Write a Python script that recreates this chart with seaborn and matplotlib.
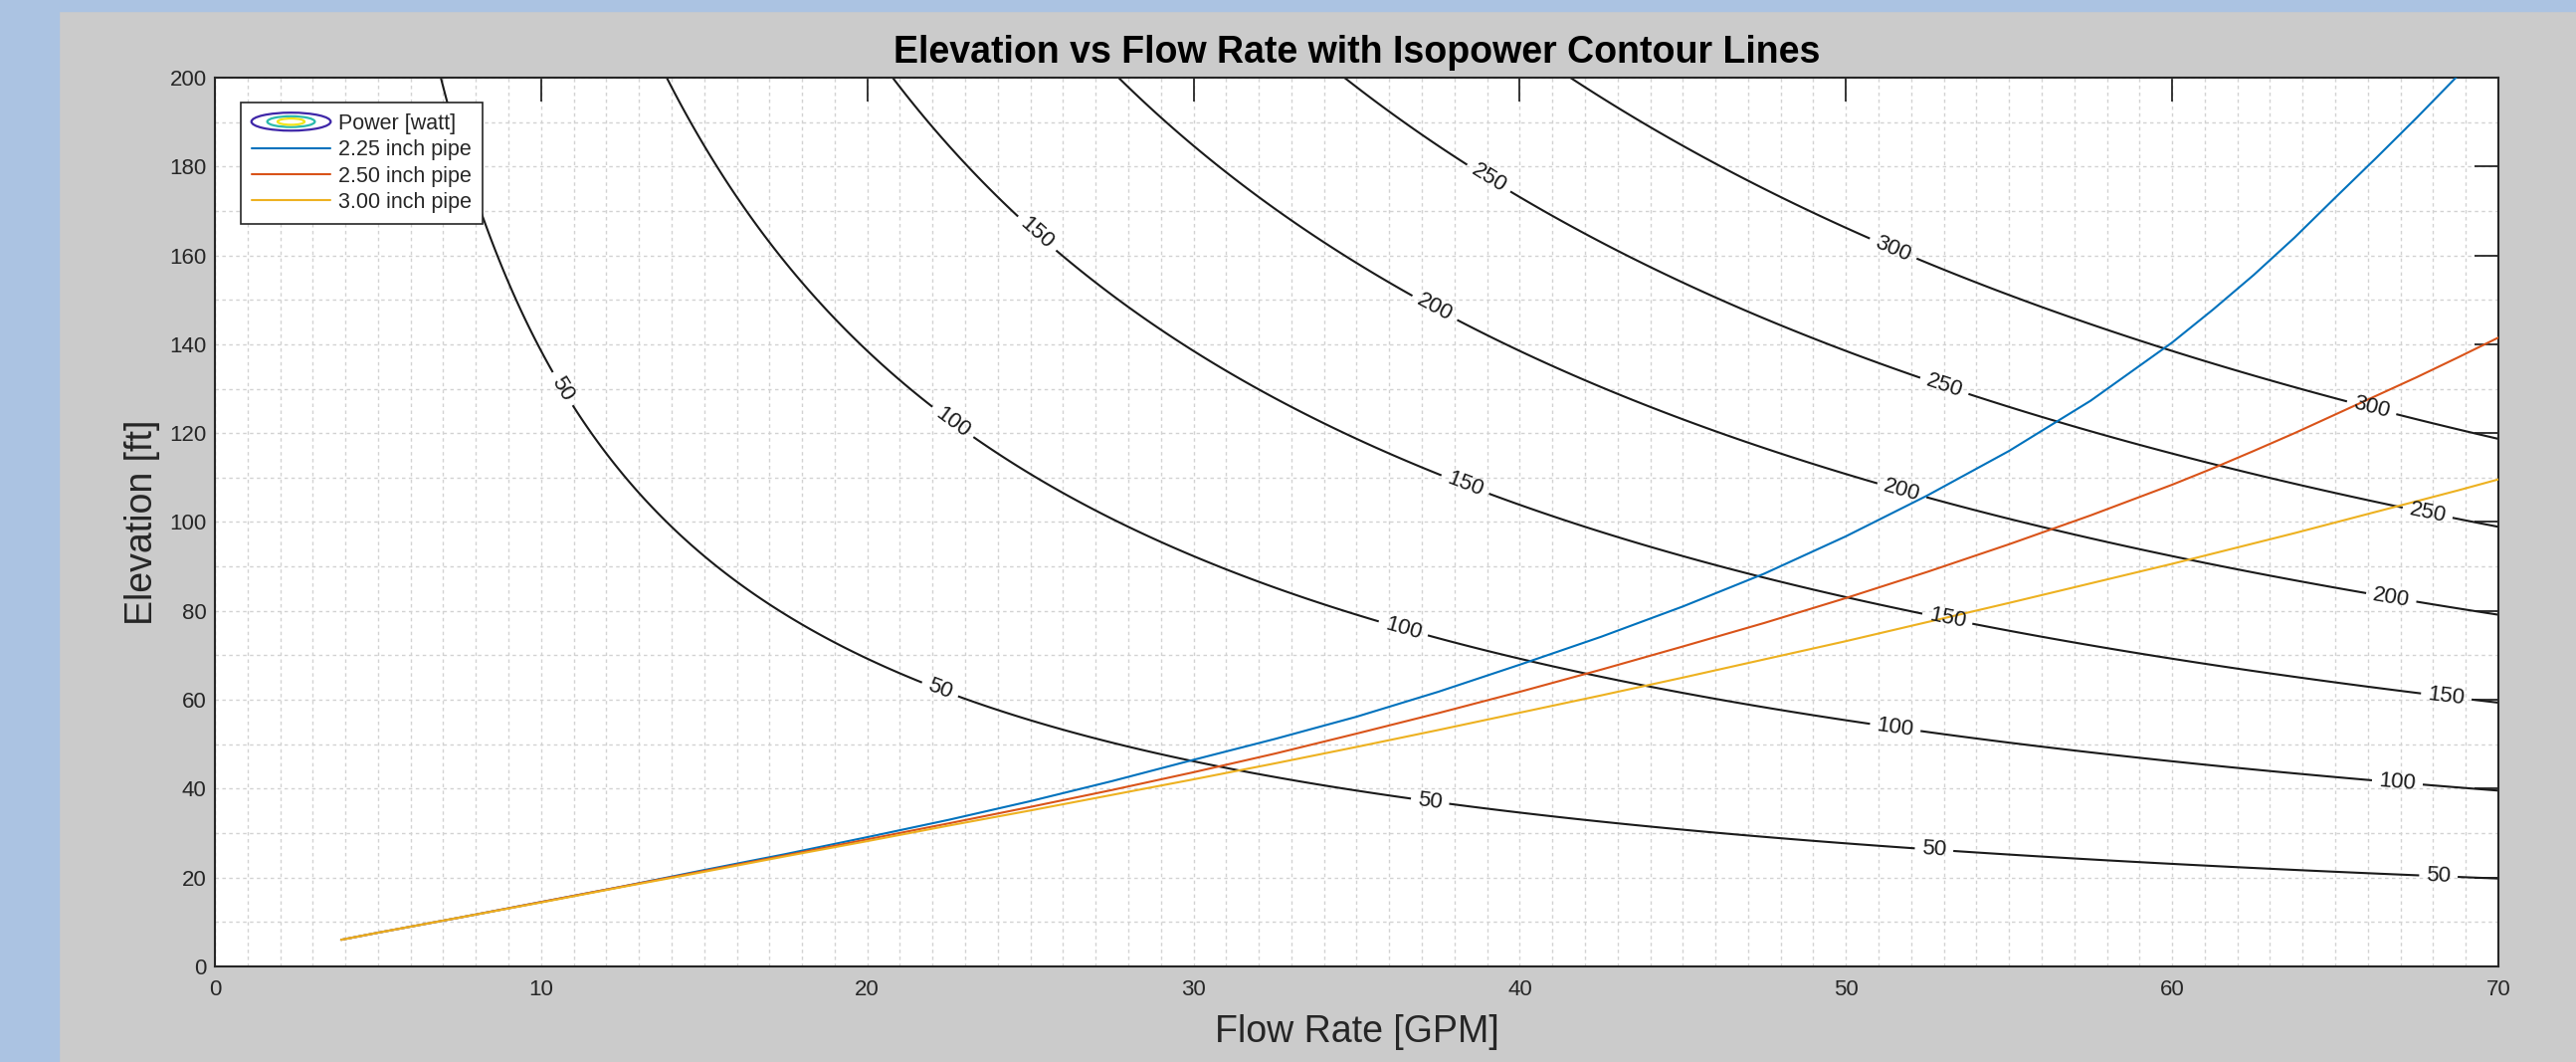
import numpy as np
import pandas as pd
import matplotlib
matplotlib.use("Agg")
import matplotlib.pyplot as plt
import seaborn as sns
from matplotlib.patches import Ellipse, Rectangle, Patch
from matplotlib.legend_handler import HandlerBase
from matplotlib.ticker import MultipleLocator

# ---------------------------
# data
# ---------------------------
flow_gpm = [3.87, 5, 7.5, 10, 12.5, 15, 17.5, 20, 22.5, 25, 27.5, 30, 32.5, 35,
            37.5, 40, 42.5, 45, 47.5, 50, 52.5, 55, 57.5, 60, 61.25, 62.5, 63.75, 65,
            66.25, 67.5, 68.75, 70]

elev_225 = [6.0, 7.6, 11.0, 14.5, 18.0, 21.7, 25.3, 29.1, 33.0, 37.2, 41.7, 46.5, 51.2, 56.2,
            61.8, 67.9, 74.2, 81.0, 88.4, 96.8, 106.0, 116.0, 127.3, 140.4, 147.8, 155.6, 164.0, 173.0,
            181.9, 191.0, 200.4, 210.5]
elev_250 = [6.0, 7.6, 11.0, 14.5, 18.0, 21.5, 25.0, 28.6, 32.2, 35.9, 39.7, 43.7, 47.9, 52.4,
            57.0, 61.8, 66.8, 72.0, 77.3, 82.9, 88.8, 95.0, 101.5, 108.4, 112.1, 116.0, 120.0, 124.2,
            128.4, 132.6, 137.0, 141.5]
elev_300 = [6.0, 7.6, 11.0, 14.4, 17.9, 21.3, 24.8, 28.2, 31.7, 35.1, 38.6, 42.1, 45.7, 49.4,
            53.2, 57.1, 61.0, 65.0, 69.1, 73.2, 77.5, 81.8, 86.2, 90.6, 92.9, 95.2, 97.5, 99.9,
            102.3, 104.7, 107.1, 109.6]

pipe_names = ["2.25 inch pipe", "2.50 inch pipe", "3.00 inch pipe"]
pipe_colors = ["#0072BD", "#D95319", "#EDB120"]

power_per_gpm_ft = 50 / 1385
power_levels = [50, 100, 150, 200, 250, 300]

# where the contour labels sit (flow, elevation)
label_spots = [
    (10.6, 129.7), (22.2, 61.8), (37.25, 37.2), (52.7, 26.2), (68.16, 20.0),
    (22.6, 122.3), (36.4, 75.3), (51.5, 53.2), (66.9, 41.1),
    (25.15, 164.5), (38.3, 107.9), (53.1, 78.0), (68.4, 60.5),
    (37.3, 146.9), (51.7, 106.8), (66.7, 82.4),
    (39.0, 176.8), (53.0, 130.3), (67.8, 101.0),
    (51.4, 160.7), (66.1, 125.3),
]

n = len(flow_gpm)
df = pd.DataFrame({
    "flow": flow_gpm * 3,
    "elev": elev_225 + elev_250 + elev_300,
    "pipe": [pipe_names[0]] * n + [pipe_names[1]] * n + [pipe_names[2]] * n,
})

# ---------------------------
# style
# ---------------------------
sns.set_style("white")
plt.rcParams["font.family"] = ["Liberation Sans", "DejaVu Sans"]
ink = "#262626"

fig = plt.figure(figsize=(25.89, 10.67), dpi=100, facecolor="#cbcbcb")
fig.add_artist(Rectangle((0, 0), 59 / 2589, 1, transform=fig.transFigure, color="#abc3e2", zorder=0))
fig.add_artist(Rectangle((0, 1 - 11 / 1067), 1, 11 / 1067, transform=fig.transFigure, color="#abc3e2", zorder=0))

ax = fig.add_axes([0.08343, 0.08997, 0.88644, 0.83693])
ax.set_facecolor("white")

# power field and contours
q = np.linspace(0.01, 70, 701)
h = np.linspace(0.01, 200, 801)
Q, H = np.meshgrid(q, h)
P = power_per_gpm_ft * Q * H
cs = ax.contour(Q, H, P, levels=power_levels, colors="#1a1a1a", linewidths=1.5, zorder=2)
ax.clabel(cs, fmt="%d", manual=label_spots, inline=True, inline_spacing=7, fontsize=16, colors="#1a1a1a")

# pipe curves
sns.lineplot(data=df, x="flow", y="elev", hue="pipe", palette=pipe_colors, hue_order=pipe_names,
             linewidth=1.5, legend=False, sort=False, ax=ax, zorder=3)

ax.set_xlim(0, 70)
ax.set_ylim(0, 200)
ax.xaxis.set_major_locator(MultipleLocator(10))
ax.yaxis.set_major_locator(MultipleLocator(20))
ax.xaxis.set_minor_locator(MultipleLocator(1))
ax.yaxis.set_minor_locator(MultipleLocator(10))
ax.set_axisbelow(True)
ax.grid(True, which="both", color="#d2d2d2", linestyle=(0, (2.5, 2.5)), linewidth=1.0)

ax.tick_params(which="major", direction="in", length=17, width=1.3, color=ink, labelcolor=ink,
               labelsize=16, top=True, right=True)
ax.tick_params(axis="x", which="major", pad=9)
ax.tick_params(axis="y", which="major", pad=6)
ax.tick_params(which="minor", length=0)
for sp in ax.spines.values():
    sp.set_color(ink)
    sp.set_linewidth(1.5)

ax.set_title("Elevation vs Flow Rate with Isopower Contour Lines", fontsize=27, fontweight="bold",
             color="black", pad=11)
ax.set_xlabel("Flow Rate [GPM]", fontsize=27, color=ink)
ax.set_ylabel("Elevation [ft]", fontsize=27, color=ink)
ax.xaxis.set_label_coords(0.5, -0.054)
ax.yaxis.set_label_coords(-0.024, 0.5)


# legend with the contour icon
class ContourIcon(HandlerBase):
    def create_artists(self, legend, orig_handle, xdescent, ydescent, width, height, fontsize, trans):
        cx = width / 2 - xdescent
        cy = height / 2 - ydescent
        out = []
        for sw, sh, col in [(1.0, 1.2, "#3e26a8"), (0.6, 0.72, "#2bbbad"), (0.34, 0.42, "#f3e51b")]:
            out.append(Ellipse((cx, cy), width * sw, height * sh, fill=False, edgecolor=col,
                               linewidth=1.6, transform=trans))
        return out


contour_proxy = Patch()
handles = [contour_proxy] + [plt.Line2D([], [], color=c, linewidth=1.5) for c in pipe_colors]
labels = ["Power [watt]"] + pipe_names
leg = ax.legend(handles, labels, handler_map={contour_proxy: ContourIcon()}, loc="upper left",
                bbox_to_anchor=(0.0113, 0.972), borderaxespad=0, fontsize=15.5, handlelength=3.7,
                handletextpad=0.35, labelspacing=0.25, borderpad=0.5, fancybox=False, framealpha=1,
                edgecolor=ink)
leg.get_frame().set_linewidth(1.2)
for t in leg.get_texts():
    t.set_color(ink)

fig.savefig("out.png", dpi=100, facecolor=fig.get_facecolor())
